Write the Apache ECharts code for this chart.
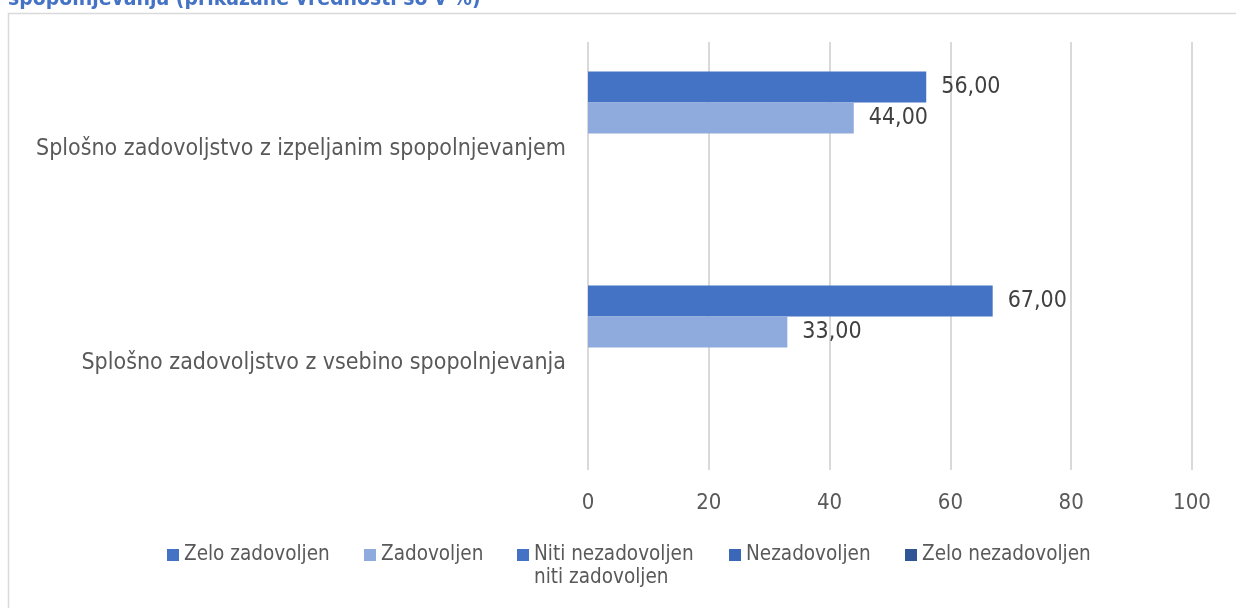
<!DOCTYPE html>
<html>
<head>
<meta charset="utf-8">
<script src="https://cdn.jsdelivr.net/npm/echarts@6/dist/echarts.min.js"></script>
<style>
html,body{margin:0;padding:0;background:#fff;}
#chart{width:1236px;height:608px;}
</style>
</head>
<body>
<div id="chart"></div>
<script>
const titleText = 'spopolnjevanja (prikazane vrednosti so v %)';
const categories = [
  'Splošno zadovoljstvo z izpeljanim spopolnjevanjem',
  'Splošno zadovoljstvo z vsebino spopolnjevanja'
];
const seriesNames = ['Zelo zadovoljen', 'Zadovoljen', 'Niti nezadovoljen niti zadovoljen', 'Nezadovoljen', 'Zelo nezadovoljen'];
const zeloZadovoljen = [56, 67];
const zadovoljen = [44, 33];
const nitiNiti = [null, null];
const nezadovoljen = [null, null];
const zeloNezadovoljen = [null, null];
const xTicks = [0, 20, 40, 60, 80, 100];

const FONT = '"DejaVu Sans Condensed", "DejaVu Sans", sans-serif';
const colors = ['#4472C4', '#8FAADC', '#4472C4', '#3A67B8', '#2F5597'];
const seriesData = [zeloZadovoljen, zadovoljen, nitiNiti, nezadovoljen, zeloNezadovoljen];

const chart = echarts.init(document.getElementById('chart'));

const legendLeft = [167, 364, 517, 729, 905];
const legends = seriesNames.map((n, i) => {
  const isNiti = i === 2;
  return {
    data: [n],
    left: legendLeft[i],
    top: isNiti ? 520.5 : 543.5,
    padding: 0,
    itemWidth: 12,
    itemHeight: 12,
    itemGap: 0,
    icon: 'rect',
    selectedMode: false,
    formatter: isNiti ? '\nNiti nezadovoljen\nniti zadovoljen' : '{name}',
    textStyle: {
      fontFamily: FONT,
      fontSize: 20.5,
      color: '#595959',
      lineHeight: 23
    }
  };
});

chart.setOption({
  animation: false,
  color: colors,
  title: {
    text: titleText,
    left: 8,
    top: -11,
    padding: 0,
    textStyle: { fontFamily: FONT, fontSize: 21, fontWeight: 'bold', color: '#4472C4' }
  },
  graphic: [{
    type: 'rect',
    shape: { x: 8.5, y: 13.5, width: 1240, height: 620 },
    style: { fill: 'none', stroke: '#d9d9d9', lineWidth: 1.5 },
    silent: true,
    z: -1
  }],
  legend: legends,
  grid: { left: 588, right: 44, top: 42, bottom: 138, containLabel: false },
  xAxis: {
    type: 'value',
    min: 0,
    max: 100,
    interval: 20,
    axisLine: { show: false },
    axisTick: { show: false },
    splitLine: { show: true, lineStyle: { color: '#d9d9d9', width: 2 } },
    axisLabel: {
      margin: 22,
      fontFamily: FONT,
      fontSize: 22,
      color: '#595959',
      customValues: xTicks
    }
  },
  yAxis: {
    type: 'category',
    inverse: true,
    data: categories,
    axisLine: { show: false },
    axisTick: { show: false },
    splitLine: { show: false },
    axisLabel: {
      margin: 22,
      fontFamily: FONT,
      fontSize: 23,
      color: '#595959'
    }
  },
  series: seriesNames.map((n, i) => ({
    name: n,
    type: 'bar',
    data: seriesData[i],
    barWidth: 31,
    barGap: '0%',
    itemStyle: { color: colors[i] },
    label: {
      show: true,
      position: 'right',
      distance: 15,
      fontFamily: FONT,
      fontSize: 23,
      color: '#404040',
      formatter: p => p.value == null ? '' : p.value.toFixed(2).replace('.', ',')
    }
  }))
});
</script>
</body>
</html>
